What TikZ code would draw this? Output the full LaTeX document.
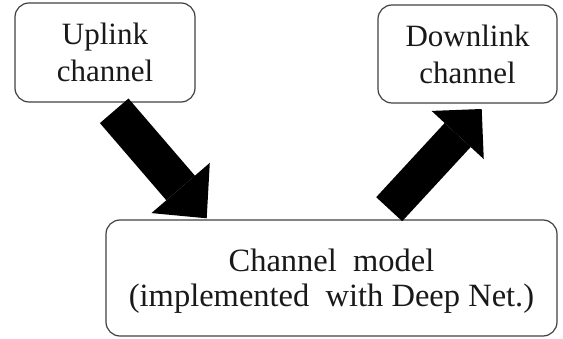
\documentclass[tikz,border=0pt]{standalone}
\usepackage{fontspec}
\setmainfont{Liberation Serif}
\usetikzlibrary{arrows.meta}
\begin{document}
\begin{tikzpicture}[x=1pt,y=-1pt,
  box/.style={draw=black!75, line width=1.2pt, rounded corners=14pt, inner sep=0pt,
    align=center, text=black!90},
  smalltxt/.style={font=\fontsize{31}{37}\selectfont},
  bigtxt/.style={font=\fontsize{32.5}{35}\selectfont},
  blockarrow/.style={line width=#1, draw=black},
]
\useasboundingbox (0,0) rectangle (563,339);

\node[box, smalltxt, minimum width=180pt, minimum height=99pt] (up) at (105,52.5) {Uplink\\channel};
\node[box, smalltxt, minimum width=179pt, minimum height=98pt] (down) at (467.5,54) {Downlink\\channel};
\node[box, bigtxt, minimum width=451pt, minimum height=116pt, text depth=0pt] (model) at (331.5,278)
  {Channel\ \ model\\(implemented\ \ with Deep Net.)};

\coordinate (a1s) at (114.2,110.8);
\coordinate (a1e) at (206.7,218.3);
\coordinate (a2s) at (389.2,209.2);
\coordinate (a2e) at (481.7,109);

\draw[blockarrow=37.7pt, -{Triangle[length=40pt,width=77pt,line width=0pt]}] (a1s) -- (a1e);
\draw[blockarrow=35.4pt, -{Triangle[length=35.4pt,width=71pt,line width=0pt]}] (a2s) -- (a2e);
\end{tikzpicture}
\end{document}
